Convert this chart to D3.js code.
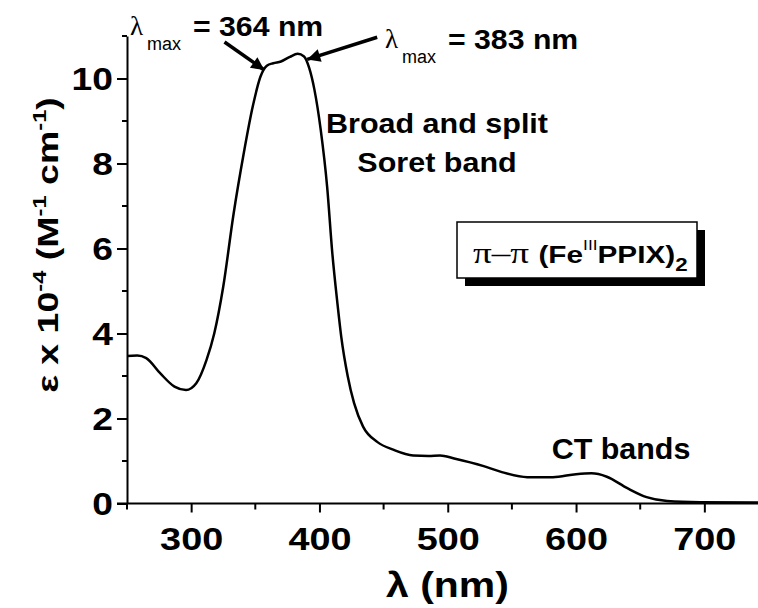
<!DOCTYPE html>
<html>
<head>
<meta charset="utf-8">
<script src="https://cdn.jsdelivr.net/npm/d3@7"></script>
<style>
  body { margin: 0; background: #fff; }
  text { font-family: "Liberation Sans", Arial, sans-serif; fill: #000; }
  .serif { font-family: "Liberation Serif", "Times New Roman", serif; font-weight: normal; }
</style>
</head>
<body>
<div id="chart"></div>
<script>
// absorption spectrum
const wavelength = [250, 258, 265, 276, 287, 296, 304, 312, 318, 325, 333, 341, 348, 354, 359, 364,
  370, 377, 383, 388, 392, 396, 401, 406, 410, 414, 417, 422, 427, 434, 445, 458, 473, 485,
  494, 505, 528, 541, 562, 582, 600, 612, 624, 640, 655, 671, 697, 750];
const epsilon = [3.47, 3.48, 3.42, 3.06, 2.75, 2.67, 2.83, 3.38, 4.0, 5.1, 6.8, 8.24, 9.34, 10.04, 10.3, 10.36,
  10.4, 10.51, 10.58, 10.52, 10.25, 9.75, 8.79, 7.45, 5.9, 4.71, 3.92, 3.0, 2.36, 1.81, 1.45, 1.26, 1.13, 1.12,
  1.13, 1.06, 0.88, 0.75, 0.62, 0.62, 0.69, 0.71, 0.63, 0.36, 0.15, 0.06, 0.03, 0.02];

const xMajor = [300, 400, 500, 600, 700];
const xMinor = [250, 350, 450, 550, 650, 750];
const yMajor = [0, 2, 4, 6, 8, 10];
const yMinor = [1, 3, 5, 7, 9, 11];

// arrows: [from, to] in data units
const arrows = [
  [[326, 10.86], [357, 10.2]],
  [[445, 10.97], [390.5, 10.45]]
];

const width = 758, height = 608;

const svg = d3.select('#chart').append('svg')
  .attr('width', width)
  .attr('height', height);

const x = d3.scaleLinear().domain([250, 750]).range([127, 768.5]);
const y = d3.scaleLinear().domain([0, 11]).range([503.5, 36]);

// the lettering in the original is wider than Arial, so stretch it sideways
function place(sel, px, py, sx, rot) {
  return sel.attr('transform', `translate(${px},${py})` + (rot ? ` rotate(${rot})` : '') + ` scale(${sx},1)`);
}

svg.append('defs').append('marker')
  .attr('id', 'head')
  .attr('viewBox', '0 0 10 10')
  .attr('refX', 10).attr('refY', 5)
  .attr('markerUnits', 'userSpaceOnUse')
  .attr('markerWidth', 20).attr('markerHeight', 13)
  .attr('orient', 'auto')
  .append('path').attr('d', 'M0,0L10,5L0,10Z').attr('fill', '#000');

// x axis
const xAxis = svg.append('g').attr('transform', `translate(0,${y(0)})`);
xAxis.call(d3.axisBottom(x).tickValues(xMajor).tickSize(9).tickSizeOuter(0).tickFormat(d3.format('d')));
xAxis.selectAll('.tick line').attr('stroke-width', 2);
xAxis.selectAll('.tick text')
  .attr('dy', null).attr('y', 0)
  .attr('transform', 'translate(0,46) scale(1.22,1)')
  .style('font-size', '31px').style('font-weight', 'bold').style('font-family', null);
xAxis.select('.domain').attr('stroke-width', 2).attr('d', `M${x(250) - 10},0H${width}`);
xAxis.selectAll('.minor').data(xMinor).join('line')
  .attr('class', 'minor')
  .attr('x1', d => x(d)).attr('x2', d => x(d))
  .attr('y1', 0).attr('y2', 6)
  .attr('stroke', '#000').attr('stroke-width', 2);

// y axis
const yAxis = svg.append('g').attr('transform', `translate(${x(250)},0)`);
yAxis.call(d3.axisLeft(y).tickValues(yMajor).tickSize(10).tickSizeOuter(0).tickFormat(d3.format('d')));
yAxis.selectAll('.tick line').attr('stroke-width', 2);
yAxis.selectAll('.tick text')
  .attr('x', 0).attr('dy', '0.36em')
  .attr('transform', 'translate(-14,0) scale(1.2,1)')
  .style('font-size', '31px').style('font-weight', 'bold').style('font-family', null);
yAxis.select('.domain').attr('stroke-width', 2);
yAxis.selectAll('.minor').data(yMinor).join('line')
  .attr('class', 'minor')
  .attr('y1', d => y(d)).attr('y2', d => y(d))
  .attr('x1', 0).attr('x2', -5)
  .attr('stroke', '#000').attr('stroke-width', 2);

// spectrum
const line = d3.line()
  .x((d, i) => x(wavelength[i]))
  .y(d => y(d))
  .curve(d3.curveMonotoneX);

svg.append('path')
  .datum(epsilon)
  .attr('fill', 'none')
  .attr('stroke', '#000')
  .attr('stroke-width', 2.5)
  .attr('d', line);

// arrows
svg.selectAll('.arrow').data(arrows).join('line')
  .attr('class', 'arrow')
  .attr('x1', d => x(d[0][0])).attr('y1', d => y(d[0][1]))
  .attr('x2', d => x(d[1][0])).attr('y2', d => y(d[1][1]))
  .attr('stroke', '#000').attr('stroke-width', 3.5)
  .attr('marker-end', 'url(#head)');

// lambda max labels
function lambdaMax(px, py, value) {
  const g = svg.append('g').attr('transform', `translate(${px},${py})`);
  g.append('text').attr('class', 'serif').attr('y', -1).style('font-size', '27px').text('λ');
  g.append('text').attr('x', 17).attr('y', 14).style('font-size', '18px').text('max');
  place(g.append('text'), 63, 0, 1.12, 0)
    .style('font-size', '27px').style('font-weight', 'bold').text(`= ${value} nm`);
}
lambdaMax(130, 36, 364);
lambdaMax(385, 49, 383);

// Soret label
place(svg.append('text'), 437, 133, 1.09)
  .attr('text-anchor', 'middle')
  .style('font-size', '28px').style('font-weight', 'bold')
  .text('Broad and split');
place(svg.append('text'), 437, 172, 1.09)
  .attr('text-anchor', 'middle')
  .style('font-size', '28px').style('font-weight', 'bold')
  .text('Soret band');

place(svg.append('text'), 621, 459, 1.05)
  .attr('text-anchor', 'middle')
  .style('font-size', '29px').style('font-weight', 'bold')
  .text('CT bands');

// legend box with shadow
const box = svg.append('g');
box.append('rect').attr('x', 465).attr('y', 230).attr('width', 240).attr('height', 56).attr('fill', '#000');
box.append('rect').attr('x', 457).attr('y', 222).attr('width', 240).attr('height', 56)
  .attr('fill', '#fff').attr('stroke', '#000').attr('stroke-width', 1.5);
const lt = place(box.append('text'), 473, 263, 1.24).style('font-size', '24px');
lt.append('tspan').attr('class', 'serif').style('font-size', '30px').text('π–π ');
lt.append('tspan').style('font-weight', 'bold').text('(Fe');
lt.append('tspan').attr('dy', -13).style('font-size', '14px').text('III');
lt.append('tspan').attr('dy', 13).style('font-weight', 'bold').text('PPIX)');
lt.append('tspan').attr('dy', 8).style('font-size', '18px').style('font-weight', 'bold').text('2');

// axis titles
const xt = place(svg.append('text'), 447.5, 597, 1.17)
  .attr('text-anchor', 'middle')
  .style('font-size', '35px').style('font-weight', 'bold');
xt.text('λ (nm)');

const yt = place(svg.append('text'), 58, 245, 1.25, -90)
  .attr('text-anchor', 'middle')
  .style('font-size', '30px').style('font-weight', 'bold');
yt.append('tspan').text('ε x 10');
yt.append('tspan').attr('dy', -12).style('font-size', '19px').text('-4');
yt.append('tspan').attr('dy', 12).text(' (M');
yt.append('tspan').attr('dy', -12).style('font-size', '19px').text('-1');
yt.append('tspan').attr('dy', 12).text(' cm');
yt.append('tspan').attr('dy', -12).style('font-size', '19px').text('-1');
yt.append('tspan').attr('dy', 12).text(')');
</script>
</body>
</html>
